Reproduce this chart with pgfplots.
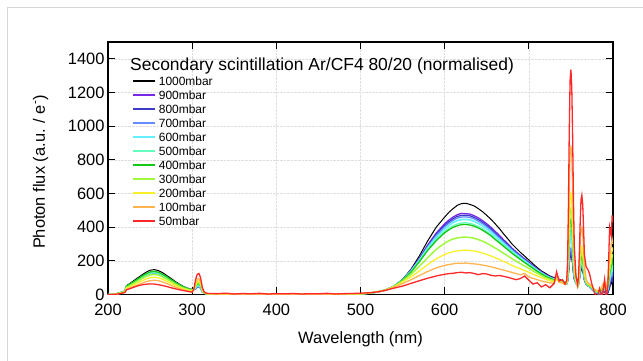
\documentclass[border=0pt]{standalone}
\usepackage{pgfplots}
\pgfplotsset{compat=1.18}
\usepackage{pgfplotstable}
\usepackage{fontspec}
\setmainfont{Liberation Sans}
\definecolor{cA}{RGB}{0,0,0}
\definecolor{cB}{RGB}{120,40,230}
\definecolor{cC}{RGB}{60,60,200}
\definecolor{cD}{RGB}{100,140,255}
\definecolor{cE}{RGB}{100,240,255}
\definecolor{cF}{RGB}{100,255,190}
\definecolor{cG}{RGB}{20,200,20}
\definecolor{cH}{RGB}{160,250,60}
\definecolor{cI}{RGB}{250,240,40}
\definecolor{cJ}{RGB}{255,180,80}
\definecolor{cK}{RGB}{255,40,40}
\definecolor{frame}{RGB}{215,215,215}
\pgfplotstableread{
x a b c d e f g h i j k
200 0 0 0 0 0 0 0 0 0 0 0
205 0 0 0 0 0 0 0 0 0 0 0
210 4 4 4 4 4 4 4 4 3 3 2
215 12 11 10 10 11 11 11 10 8 7 6
220 21 19 18 18 18 19 19 17 14 12 12
222 53 49 47 46 48 48 50 43 37 31 28
225 62 57 55 54 55 56 58 50 43 36 33
230 80 73 70 69 71 72 75 65 56 46 42
235 98 89 86 84 87 88 91 79 68 56 51
240 115 105 101 100 103 104 108 94 80 66 57
245 132 120 116 114 117 118 123 107 92 76 61
250 144 131 126 124 128 129 134 116 100 82 63
255 148 135 130 128 132 133 138 120 103 85 62
260 142 130 125 123 127 128 132 115 99 82 58
265 129 117 113 111 115 116 120 104 90 74 53
270 112 103 99 97 100 101 105 91 78 65 47
275 95 86 83 82 84 85 88 77 66 54 40
280 77 70 68 67 69 69 72 62 54 44 34
285 61 55 53 52 54 55 57 49 42 35 28
290 47 43 42 41 42 43 44 38 33 27 23
295 37 34 33 32 33 33 35 30 26 21 18
300 30 27 26 26 26 27 28 24 21 17 14
302 30 29 28 28 29 31 33 31 29 28 31
304 35 34 32 34 39 41 46 50 57 67 88
306 48 46 44 46 52 55 62 68 78 90 119
308 50 48 46 48 55 58 65 72 82 95 125
310 40 38 37 38 44 46 52 58 66 76 100
312 18 17 16 17 19 20 23 25 29 33 44
314 8 8 8 8 9 9 10 11 12 13 17
317 4 4 4 4 4 4 4 5 5 6 8
320 3 3 3 3 3 3 3 3 4 4 6
330 2 2 2 2 2 2 2 2 3 3 5
340 2 2 2 2 2 2 2 2 2 3 8
350 1 1 1 1 1 1 1 2 2 2 3
360 1 1 1 1 1 1 1 1 2 2 6
370 1 1 1 1 1 1 1 1 1 2 4
380 1 1 1 1 1 1 1 1 1 2 7
390 1 1 1 1 1 1 1 1 1 2 3
400 1 1 1 1 1 1 1 1 1 2 5
410 1 1 1 1 1 1 1 1 1 2 4
420 1 1 1 1 1 1 1 1 1 2 6
430 1 1 1 1 1 1 1 1 1 2 3
440 1 1 1 1 1 1 1 1 1 2 5
450 1 1 1 1 1 1 1 1 1 2 4
460 1 1 1 1 1 1 1 1 2 2 7
470 1 1 1 1 1 1 1 1 2 3 3
480 2 2 2 2 2 2 2 2 2 3 5
490 2 2 2 2 2 2 2 3 3 4 6
500 3 3 3 3 3 3 3 4 4 5 8
510 8 8 8 8 8 8 8 8 9 9 10
520 15 15 15 15 15 15 15 15 16 16 15
530 27 27 27 27 27 27 27 27 27 26 25
540 50 50 50 49 49 49 49 48 47 44 38
550 90 88 87 86 86 85 85 80 75 65 50
560 150 145 143 140 138 135 133 120 105 88 66
570 230 215 212 208 204 198 195 168 140 113 82
580 320 295 290 284 277 268 263 220 178 137 97
590 400 365 358 350 340 328 320 268 212 158 110
600 460 420 410 402 390 375 367 305 238 173 120
605 488 442 432 423 410 393 384 319 248 178 124
610 510 460 450 440 427 408 399 330 255 182 126
615 530 474 464 454 439 419 409 336 259 186 130
620 540 482 470 460 445 425 415 340 262 185 132
625 542 480 471 461 446 426 416 341 263 187 128
630 535 478 468 458 443 423 413 339 261 184 130
635 526 468 458 449 435 415 406 334 258 182 125
640 510 455 445 436 422 404 395 326 253 179 118
645 492 439 429 421 408 391 382 317 246 175 124
650 470 420 410 402 390 374 366 305 238 170 122
655 447 399 390 382 371 356 349 291 229 165 114
660 420 375 365 358 348 334 327 276 218 158 110
665 392 351 342 336 326 314 307 261 208 151 113
670 360 325 318 312 303 292 286 245 196 145 108
675 331 301 295 289 281 272 266 229 185 138 102
680 300 275 270 265 258 250 245 213 173 131 95
685 275 253 249 244 238 231 226 198 162 124 88
690 250 232 228 224 218 212 208 183 152 117 95
695 228 212 208 204 199 193 190 169 142 125 110
700 205 192 188 185 180 175 172 155 132 104 85
705 182 172 169 166 162 157 155 140 121 96 62
710 160 152 150 148 144 140 138 126 110 88 70
715 140 134 132 130 127 124 122 112 100 80 45
720 125 118 116 114 112 110 108 100 90 75 58
725 110 105 103 102 100 98 97 90 82 70 40
730 100 95 93 92 90 88 87 82 76 66 65
733 108 102 100 99 98 97 97 94 90 105 135
736 90 86 84 83 82 81 80 78 75 72 80
740 82 78 76 75 75 74 74 72 70 68 88
743 70 66 65 64 64 63 63 62 60 60 62
745 63 64 64 64 66 66 68 69 71 77 85
746 77 80 79 82 89 92 99 105 114 143 188
747 120 128 127 135 162 172 195 218 249 349 506
748 179 197 193 211 263 284 330 375 438 638 953
749 222 245 241 264 336 364 426 488 573 844 1271
750 230 255 250 275 350 380 445 510 600 885 1335
751 216 239 235 258 327 354 414 474 557 819 1233
752 179 197 193 211 263 284 330 375 438 638 953
753 128 138 136 146 176 188 214 240 276 390 570
754 91 95 94 99 112 118 129 141 157 209 290
756 67 68 68 69 72 73 75 78 82 93 111
758 50 50 50 50 50 50 50 50 50 52 58
759 60 62 61 63 65 66 68 71 74 85 104
760 85 90 89 94 101 104 111 122 132 173 239
761 120 131 127 138 152 159 173 194 215 295 428
762 145 159 155 169 188 197 216 245 273 383 563
763 150 165 160 175 195 205 225 255 285 400 590
764 140 154 149 163 181 190 208 235 262 365 536
765 115 125 122 131 144 151 164 183 203 278 401
766 85 90 89 94 101 104 111 122 132 173 239
768 62 64 63 65 67 69 71 75 78 92 165
770 52 54 53 55 56 57 58 62 65 70 150
772 45 47 46 48 50 50 52 55 58 62 125
775 30 32 30 33 35 36 40 42 45 50 60
778 15 18 15 18 20 22 25 28 30 30 10
781 5 8 5 10 12 15 18 20 22 25 -20
784 -10 2 -5 5 8 10 10 15 18 20 35
787 10 15 12 20 25 28 30 40 45 50 -20
790 20 25 22 30 35 40 50 60 70 80 90
792 -10 5 -5 10 12 15 20 25 30 40 -20
794 10 20 15 25 35 40 50 60 80 100 60
796 40 60 50 70 90 100 120 140 170 220 400
798 80 100 90 110 130 150 170 200 240 300 350
799 60 90 80 110 140 150 180 220 260 330 470
800 120 140 130 150 170 190 210 240 280 300 430
}\spec
\begin{document}
\begin{tikzpicture}
\path[use as bounding box] (-108bp,-66.5bp) rectangle (535bp,294.5bp);
\draw[frame, line width=1bp] (-100bp,-66.5bp) -- (-100bp,287.2bp) -- (535bp,287.2bp);
\begin{axis}[
  at={(0,0)}, anchor=south west, scale only axis,
  width=505bp, height=252.5bp,
  xmin=200, xmax=800, ymin=0, ymax=1500,
  xtick={200,300,...,800}, ytick={0,200,...,1400},
  tick align=inside, major tick length=7bp,
  tick style={line width=1.3bp, black},
  axis line style={line width=1.4bp},
  grid=major, major grid style={densely dotted, black!13, line width=0.6bp},
  ticklabel style={font=\fontsize{16.5}{19}\selectfont},
  xticklabel style={yshift=-6.5bp},
  /pgf/number format/assume math mode=true,
  /pgf/number format/1000 sep={},
  xlabel={Wavelength (nm)},
  ylabel={Photon flux (a.u. / e\textsuperscript{-})},
  label style={font=\fontsize{16.5}{19}\selectfont},
  xlabel style={at={(axis description cs:0.5,-0.196)}, anchor=base},
  ylabel style={at={(axis description cs:-0.1248,0.485)}, anchor=base},
  legend cell align=left,
  legend image code/.code={\draw[#1, line width=1.7bp] (0bp,0bp) -- (22bp,0bp);},
  legend style={at={(rel axis cs:0.0475,0.8634)}, anchor=north west,
    draw=none, fill=none, inner sep=0pt, row sep=5.0bp, column sep=3bp,
    font=\fontsize{12}{14}\selectfont,
    nodes={inner sep=0pt, text height=9bp, text depth=0bp}},
]
\addplot[color=cA, line width=1.0bp] table[x=x,y=a]{\spec}; \addlegendentry{1000mbar}
\addplot[color=cB, line width=1.3bp] table[x=x,y=b]{\spec}; \addlegendentry{900mbar}
\addplot[color=cC, line width=1.3bp] table[x=x,y=c]{\spec}; \addlegendentry{800mbar}
\addplot[color=cD, line width=1.3bp] table[x=x,y=d]{\spec}; \addlegendentry{700mbar}
\addplot[color=cE, line width=1.7bp] table[x=x,y=e]{\spec}; \addlegendentry{600mbar}
\addplot[color=cF, line width=1.3bp] table[x=x,y=f]{\spec}; \addlegendentry{500mbar}
\addplot[color=cG, line width=1.3bp] table[x=x,y=g]{\spec}; \addlegendentry{400mbar}
\addplot[color=cH, line width=1.5bp] table[x=x,y=h]{\spec}; \addlegendentry{300mbar}
\addplot[color=cI, line width=1.3bp] table[x=x,y=i]{\spec}; \addlegendentry{200mbar}
\addplot[color=cJ, line width=1.3bp] table[x=x,y=j]{\spec}; \addlegendentry{100mbar}
\addplot[color=cK, line width=1.3bp] table[x=x,y=k]{\spec}; \addlegendentry{50mbar}
\node[anchor=base west, inner sep=0pt, font=\fontsize{17.5}{20}\selectfont] at (rel axis cs:0.0436,0.889) {Secondary scintillation Ar/CF4 80/20 (normalised)};
\end{axis}
\end{tikzpicture}
\end{document}
